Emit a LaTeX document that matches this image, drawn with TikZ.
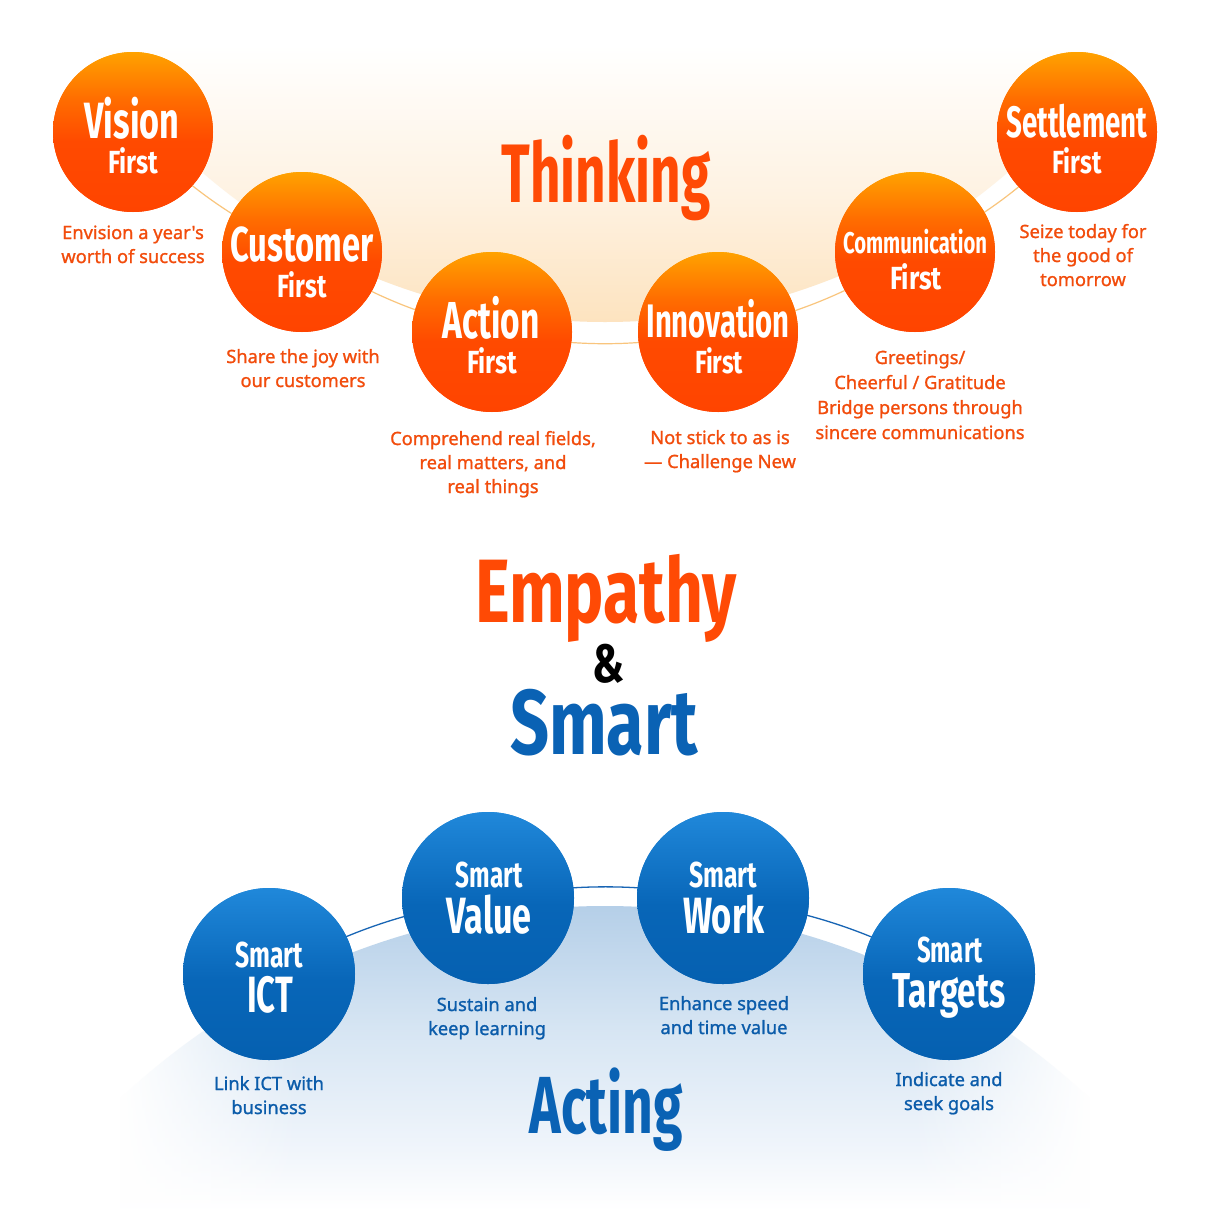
\documentclass[tikz,border=0pt]{standalone}
\usepackage{fontspec}
\usepackage{graphicx}
\usetikzlibrary{fadings}
\setmainfont{Noto Sans}
\newfontfamily\descfont{Noto Sans}[FakeBold=1.1]
\newfontfamily\condfont{Fira Sans}
\newcommand\cwf[1]{\condfont\bfseries\fontsize{#1}{#1}\selectfont}
\newcommand\fw[2]{\resizebox{#1pt}{\height}{#2}}

\definecolor{orA}{HTML}{FF4400}
\definecolor{orB}{HTML}{FF4A00}
\definecolor{orC}{HTML}{FF6C00}
\definecolor{orD}{HTML}{FFA200}
\definecolor{blA}{HTML}{0560B0}
\definecolor{blB}{HTML}{0866B8}
\definecolor{blC}{HTML}{2088DA}
\definecolor{ogA}{HTML}{FDE3BF}
\definecolor{ogB}{HTML}{FEF2E2}
\definecolor{bgA}{HTML}{B5CFE8}
\definecolor{bgB}{HTML}{D6E5F3}
\definecolor{bgC}{HTML}{F0F5FB}
\definecolor{txtOr}{HTML}{F24C0C}
\definecolor{txtBl}{HTML}{0B5CAA}
\definecolor{headOr}{HTML}{FF4A05}
\definecolor{headBl}{HTML}{0A62B4}
\definecolor{lineOr}{HTML}{F9C57D}
\definecolor{lineBl}{HTML}{1865B4}

\pgfdeclareverticalshading{orball}{100bp}{color(0bp)=(orA); color(25bp)=(orA); color(47bp)=(orB); color(60bp)=(orC); color(75bp)=(orD); color(100bp)=(orD)}
\pgfdeclareverticalshading{blball}{100bp}{color(0bp)=(blA); color(25bp)=(blA); color(48bp)=(blB); color(75bp)=(blC); color(100bp)=(blC)}
\pgfdeclareverticalshading{orglow}{100bp}{color(0bp)=(ogA); color(25bp)=(ogA); color(45bp)=(ogB); color(68bp)=(white); color(100bp)=(white)}
\pgfdeclareverticalshading{blglow}{100bp}{color(0bp)=(white); color(25bp)=(white); color(35bp)=(bgC); color(55bp)=(bgB); color(75bp)=(bgA); color(100bp)=(bgA)}
\tikzfading[name=fadeToRight, left color=transparent!0, right color=transparent!100]
\tikzfading[name=fadeToLeft, left color=transparent!100, right color=transparent!0]

\tikzset{
  orball/.style={circle, minimum size=160pt, inner sep=0pt, shading=orball},
  blball/.style={circle, minimum size=172pt, inner sep=0pt, shading=blball},
  cw/.style={anchor=base, text=white, inner sep=0pt},
  head/.style={anchor=base, inner sep=0pt},
  desc/.style={anchor=base, align=center, inner sep=0pt, text=txtOr, font=\descfont\fontsize{18.3}{24}\selectfont},
  descb/.style={desc, text=txtBl},
  orline/.style={draw=lineOr, line width=1.2pt},
  blline/.style={draw=lineBl, line width=1.3pt},
}

\begin{document}
\begin{tikzpicture}[x=1pt, y=-1pt]
\useasboundingbox (0,0) rectangle (1210,1210);
\fill[white] (0,0) rectangle (1210,1210);

% orange glow
\begin{scope}
  \clip (605,-295) circle (617);
  \shade[shading=orglow] (0,0) rectangle (1210,323);
\end{scope}
% blue glow
\begin{scope}
  \clip (605,1613) circle (707);
  \shade[shading=blglow] (0,906) rectangle (1210,1210);
\end{scope}
\fill[white] (0,1000) rectangle (120,1210);
\fill[white, path fading=fadeToRight] (120,1000) rectangle (300,1210);
\fill[white] (1090,1000) rectangle (1210,1210);
\fill[white, path fading=fadeToLeft] (910,1000) rectangle (1090,1210);

% orange circles
\node[orball] (vision) at (133,132) {};
\node[orball] (customer) at (302,252) {};
\node[orball] (action) at (492,332) {};
\node[orball] (innovation) at (718,332) {};
\node[orball] (communication) at (915,252) {};
\node[orball] (settlement) at (1077,132) {};

% blue circles
\node[blball] (ict) at (269,974) {};
\node[blball] (value) at (488,898) {};
\node[blball] (work) at (723,898) {};
\node[blball] (targets) at (949,974) {};

% connectors along the arcs
\path[orline] (vision.center) to[bend right=9.5] (customer.center);
\path[orline] (customer.center) to[bend right=9.4] (action.center);
\path[orline] (action.center) to[bend right=10.2] (innovation.center);
\path[orline] (innovation.center) to[bend right=9.2] (communication.center);
\path[orline] (communication.center) to[bend right=9.6] (settlement.center);
\path[blline] (ict.center) to[bend left=9.2] (value.center);
\path[blline] (value.center) to[bend left=9.35] (work.center);
\path[blline] (work.center) to[bend left=9.45] (targets.center);

% circles over the connector ends
\foreach \n in {vision,customer,action,innovation,communication,settlement}
  \shade[shading=orball] (\n.center) circle (80);
\foreach \n in {ict,value,work,targets}
  \shade[shading=blball] (\n.center) circle (86);

% circle texts
\node[cw, font=\cwf{51}] (visionA) at (132,138) {\fw{95}{Vision}};
\node[cw, font=\cwf{32}] (visionB) at (133,173) {\fw{50}{First}};
\node[cw, font=\cwf{49}] (customerA) at (302,261) {\fw{143}{Customer}};
\node[cw, font=\cwf{32}] (customerB) at (302,297) {\fw{49}{First}};
\node[cw, font=\cwf{52}] (actionA) at (491,338) {\fw{97}{Action}};
\node[cw, font=\cwf{32}] (actionB) at (492,373) {\fw{50}{First}};
\node[cw, font=\cwf{47}] (innovationA) at (718,337) {\fw{143}{Innovation}};
\node[cw, font=\cwf{32}] (innovationB) at (719,373) {\fw{48}{First}};
\node[cw, font=\cwf{30}] (communicationA) at (915,253) {\fw{144}{Communication}};
\node[cw, font=\cwf{32}] (communicationB) at (916,289) {\fw{52}{First}};
\node[cw, font=\cwf{44}] (settlementA) at (1077,137) {\fw{141}{Settlement}};
\node[cw, font=\cwf{32}] (settlementB) at (1077,173) {\fw{49}{First}};

\node[cw, font=\cwf{36}] (ictA) at (269,967) {\fw{68}{Smart}};
\node[cw, font=\cwf{51}] (ictB) at (270,1012) {\fw{46}{ICT}};
\node[cw, font=\cwf{36}] (valueA) at (489,887) {\fw{67}{Smart}};
\node[cw, font=\cwf{51}] (valueB) at (489,933) {\fw{85}{Value}};
\node[cw, font=\cwf{36}] (workA) at (723,887) {\fw{68}{Smart}};
\node[cw, font=\cwf{51}] (workB) at (724,933) {\fw{82}{Work}};
\node[cw, font=\cwf{36}] (targetsA) at (950,962) {\fw{66}{Smart}};
\node[cw, font=\cwf{49}] (targetsB) at (949,1007) {\fw{113}{Targets}};

% descriptions (anchor = baseline of the last line)
\node[desc] (visionD) at (133,263) {Envision a year's\\worth of success};
\node[desc] (customerD) at (303,387) {Share the joy with\\our customers};
\node[desc] (actionD) at (493,493) {Comprehend real fields,\\real matters, and\\real things};
\node[desc] (innovationD) at (720,468) {Not stick to as is\\— Challenge New};
\node[desc, font=\descfont\fontsize{18.3}{25}\selectfont] (communicationD) at (920,439) {Greetings/\\Cheerful / Gratitude\\Bridge persons through\\sincere communications};
\node[desc] (settlementD) at (1083,286) {Seize today for\\the good of\\tomorrow};

\node[descb] (ictD) at (269,1114) {Link ICT with\\business};
\node[descb] (valueD) at (487,1035) {Sustain and\\keep learning};
\node[descb] (workD) at (724,1034) {Enhance speed\\and time value};
\node[descb] (targetsD) at (949,1110) {Indicate and\\seek goals};

% headlines
\node[head, text=headOr, font=\cwf{83}] (thinking) at (606,202) {\fw{209}{Thinking}};
\node[head, text=headOr, font=\cwf{90}] (empathy) at (606,622) {\fw{262}{Empathy}};
\node[head, text=black, font=\cwf{54}] (amp) at (608,682) {\fw{32}{\&}};
\node[head, text=headBl, font=\cwf{92}] (smart) at (604,754) {\fw{188}{Smart}};
\node[head, text=headBl, font=\cwf{81}] (acting) at (606,1133) {\fw{153}{Acting}};
\end{tikzpicture}
\end{document}
